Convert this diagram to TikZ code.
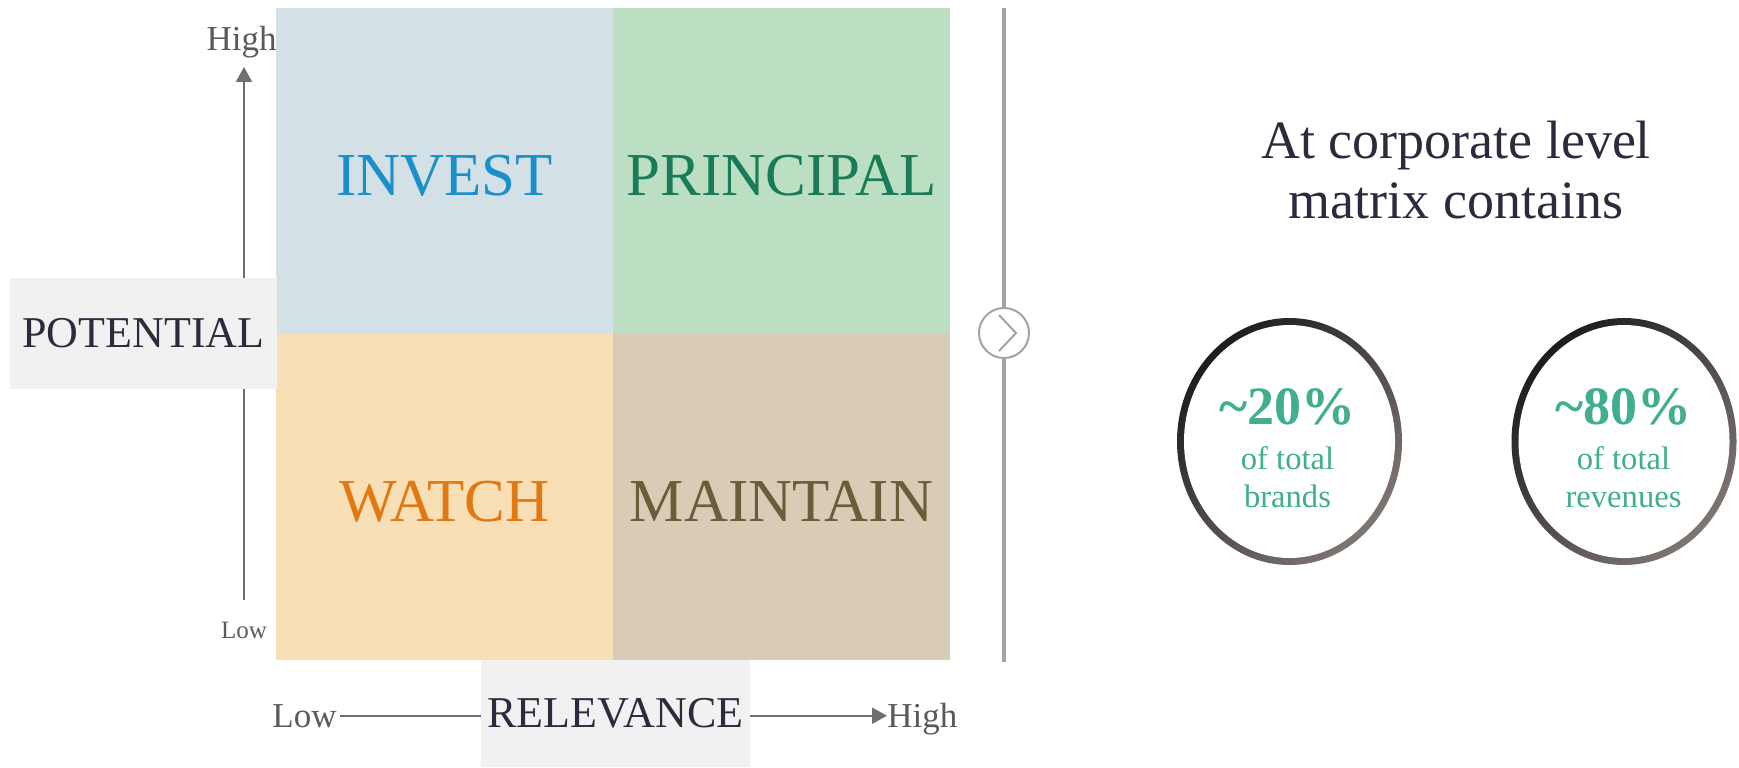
\documentclass[tikz,border=0pt]{standalone}
\usepackage{fontspec}
\setmainfont{Liberation Serif}
\usepackage{tikz}
\usetikzlibrary{arrows.meta,positioning}

\definecolor{investbg}{HTML}{D3E0E6}
\definecolor{investfg}{HTML}{1A8FC9}
\definecolor{principalbg}{HTML}{BCDFC4}
\definecolor{principalfg}{HTML}{197B57}
\definecolor{watchbg}{HTML}{F8DFB6}
\definecolor{watchfg}{HTML}{E27812}
\definecolor{maintainbg}{HTML}{D8CCB6}
\definecolor{maintainfg}{HTML}{6B5D3A}
\definecolor{tagbg}{HTML}{F1F1F1}
\definecolor{tagfg}{HTML}{2A2C3D}
\definecolor{ticktext}{HTML}{5A5A5A}
\definecolor{axisgray}{HTML}{6F6F6F}
\definecolor{dividergray}{HTML}{A3A3A3}
\definecolor{ringdark}{HTML}{1E1D1D}
\definecolor{ringgray}{HTML}{7E7673}
\definecolor{shareteal}{HTML}{40AE8F}

\begin{document}
\begin{tikzpicture}[
    x=0.5pt, y=-0.5pt,
    quad/.style={minimum width=168.5pt, minimum height=163pt, inner sep=0pt,
        outer sep=0pt, text height=24.7pt, text depth=0pt,
        font=\fontsize{30.5}{36}\selectfont},
    tag/.style={fill=tagbg, text=tagfg, inner sep=0pt,
        font=\fontsize{22}{26}\selectfont},
    tick/.style={text=ticktext, inner sep=0pt, font=\fontsize{17.5}{21}\selectfont},
    axis/.style={-{Triangle[length=7.5pt,width=8pt]}, line width=1pt, draw=axisgray},
    divider/.style={line width=2pt, draw=dividergray},
    pct/.style={text=shareteal, inner sep=0pt, font=\bfseries\fontsize{27}{32}\selectfont},
    share/.style={text=shareteal, align=center, inner sep=0pt,
        font=\fontsize{16.3}{19}\selectfont}
]
\useasboundingbox (0,0) rectangle (1739,767);

% the four quadrants
\node[quad, fill=investbg, text=investfg] (invest) at (444.5,171) {INVEST};
\node[quad, fill=principalbg, text=principalfg, right=0pt of invest] (principal) {PRINCIPAL};
\node[quad, fill=watchbg, text=watchfg, below=0pt of invest] (watch) {WATCH};
\node[quad, fill=maintainbg, text=maintainfg, right=0pt of watch] (maintain) {MAINTAIN};

% axes
\node[tick, anchor=base east] (vhigh) at (277,50) {High};
\node[tick, anchor=base, font=\fontsize{12.5}{15}\selectfont] (vlow) at (244,638) {Low};
\node[tick, anchor=base east] (hlow) at (337,727) {Low};
\node[tick, anchor=base west] (hhigh) at (887,727) {High};

\draw[axis, shorten <=10.75pt, shorten >=4.5pt] (vlow.north) -- (vlow.north |- vhigh.south);
\draw[axis, shorten <=1.5pt] (hlow.east) -- (hlow.east -| hhigh.west);

\node[tag, minimum width=133.5pt, minimum height=55.5pt] (potential) at (143.5,333.5) {POTENTIAL};
\node[tag, minimum width=134.5pt, minimum height=53.5pt] (relevance) at (615.5,713.5) {RELEVANCE};

% divider with the arrow button
\coordinate (divtop) at (1004,8);
\coordinate (divbot) at (1004,662);
\node[circle, draw=dividergray, line width=1pt, fill=white, minimum size=25pt, inner sep=0pt] (next) at (1004,333) {};
\draw[divider] (divtop) -- (next);
\draw[divider] (next) -- (divbot);
\draw[dividergray, line width=1pt] ([xshift=-2.5pt,yshift=9pt]next.center)
    -- ([xshift=6pt]next.center) -- ([xshift=-2.5pt,yshift=-9pt]next.center);

\node[align=center, text=tagfg, font=\fontsize{27}{30}\selectfont] (headline) at (1456,170) {At corporate level\\matrix contains};

% share rings
\coordinate (brands) at (1289.5,441.5);
\coordinate (revenues) at (1624,441.5);
\foreach \c in {brands,revenues} {
    \shade[left color=ringdark, right color=ringgray, shading angle=45] (\c) ellipse (112.5 and 123.5);
    \fill[white] (\c) ellipse (105.5 and 116.5);
}

\node[pct, anchor=base] (brandpct) at (1287.5,424) {\textasciitilde20\%};
\node[share, below=10.5pt of brandpct] (brandtxt) {of total\\brands};
\node[pct, anchor=base] (revenuepct) at (1623.5,424) {\textasciitilde80\%};
\node[share, below=10.5pt of revenuepct] (revenuetxt) {of total\\revenues};
\end{tikzpicture}
\end{document}
